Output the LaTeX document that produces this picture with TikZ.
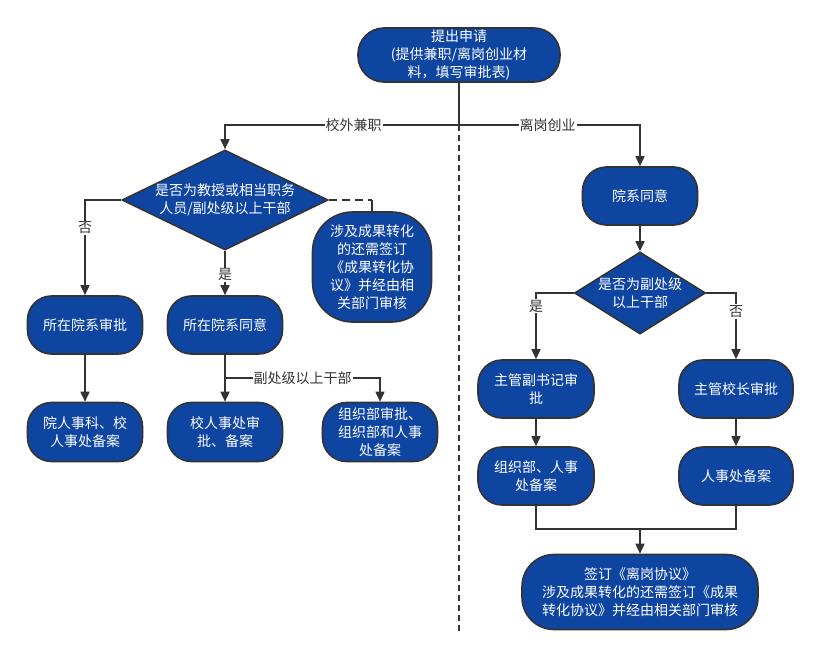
\documentclass[tikz,border=0pt]{standalone}
\usepackage{fontspec}
\newfontfamily\cjk{Noto Sans CJK SC}
\usetikzlibrary{arrows.meta,shapes.geometric}
\definecolor{boxblue}{RGB}{14,69,161}
\definecolor{edge}{RGB}{51,51,51}
\begin{document}
\begin{tikzpicture}[x=1pt,y=-1pt,
  font=\cjk\fontsize{14}{18}\selectfont,
  box/.style={draw=edge,line width=1.6pt,fill=boxblue,text=white,align=center,inner sep=0pt,rounded corners=24pt,minimum width=115pt,minimum height=58pt},
  dia/.style={draw=edge,line width=1.6pt,fill=boxblue,shape=diamond,inner sep=0pt},
  conn/.style={draw=edge,line width=1.6pt},
  arr/.style={conn,-{Triangle[length=10pt,width=9pt]}},
  lab/.style={fill=white,inner sep=1pt,text=edge}]
\useasboundingbox (0,0) rectangle (822,658);
% nodes
\node[box,minimum width=202pt,minimum height=54pt,rounded corners=26pt] (top) at (459,55) {提出申请\\(提供兼职/离岗创业材\\料，填写审批表)};
\node[dia,minimum width=206pt,minimum height=100pt,label={[text=white,align=center]center:是否为教授或相当职务\\人员/副处级以上干部}] (d1) at (225,200) {};
\node[box,minimum width=119pt,minimum height=110pt,rounded corners=40pt] (c1) at (372,267) {涉及成果转化\\的还需签订\\《成果转化协\\议》并经由相\\关部门审核};
\node[box] (a1) at (85,325) {所在院系审批};
\node[box] (a2) at (225,325) {所在院系同意};
\node[box,minimum height=59pt] (b1) at (85,432) {院人事科、校\\人事处备案};
\node[box,minimum height=59pt] (b2) at (225,432) {校人事处审\\批、备案};
\node[box,minimum height=59pt] (b3) at (380,432) {组织部审批、\\组织部和人事\\处备案};
\node[box] (yx) at (640,196) {院系同意};
\node[dia,minimum width=131pt,minimum height=82pt,label={[text=white,align=center]center:是否为副处级\\以上干部}] (d2) at (640,293) {};
\node[box,minimum width=116pt] (e1) at (536,389) {主管副书记审\\批};
\node[box,minimum width=114pt] (e2) at (736,389) {主管校长审批};
\node[box,minimum width=116pt] (f1) at (536,476) {组织部、人事\\处备案};
\node[box,minimum width=114pt] (f2) at (736,476) {人事处备案};
\node[box,minimum width=236pt,minimum height=75pt,rounded corners=32pt] (g) at (640,592) {签订《离岗协议》\\涉及成果转化的还需签订《成果\\转化协议》并经由相关部门审核};
% coordinates
\coordinate (br) at (459,125);
\coordinate (bl) at (225,125);
\coordinate (brr) at (640,125);
\coordinate (dend) at (459,632);
\coordinate (j1) at (225,378);
\coordinate (m) at (640,529);
% connectors
\draw[conn,dashed,dash pattern=on 6pt off 4pt,line width=1.2pt] (br) -- (dend);
\draw[conn] (top.south) -- (br);
\draw[arr] (br) -- node[lab,pos=0.45]{校外兼职} (bl) -- (d1.north);
\draw[arr] (br) -- node[lab,pos=0.49]{离岗创业} (brr) -- (yx.north);
\draw[arr] (d1.west) -| node[lab,pos=0.646]{否} (a1.north);
\draw[arr] (d1.south) -- node[lab,pos=0.54]{是} (a2.north);
\draw[conn,dashed,dash pattern=on 8pt off 5pt] (d1.east) -- (c1.north |- d1.east);
\draw[conn] (c1.north |- d1.east) -- (c1.north);
\draw[arr] (a1.south) -- (b1.north);
\draw[arr] (a2.south) -- (b2.north);
\draw[arr] (j1) -| node[lab,pos=0.25]{副处级以上干部} (b3.north);
\draw[arr] (yx.south) -- (d2.north);
\draw[arr] (d2.west) -| node[lab,pos=0.6]{是} (e1.north);
\draw[arr] (d2.east) -| node[lab,pos=0.64]{否} (e2.north);
\draw[arr] (e1.south) -- (f1.north);
\draw[arr] (e2.south) -- (f2.north);
\draw[conn] (f1.south) |- (m);
\draw[conn] (f2.south) |- (m);
\draw[arr] (m) -- (g.north);
\end{tikzpicture}
\end{document}
